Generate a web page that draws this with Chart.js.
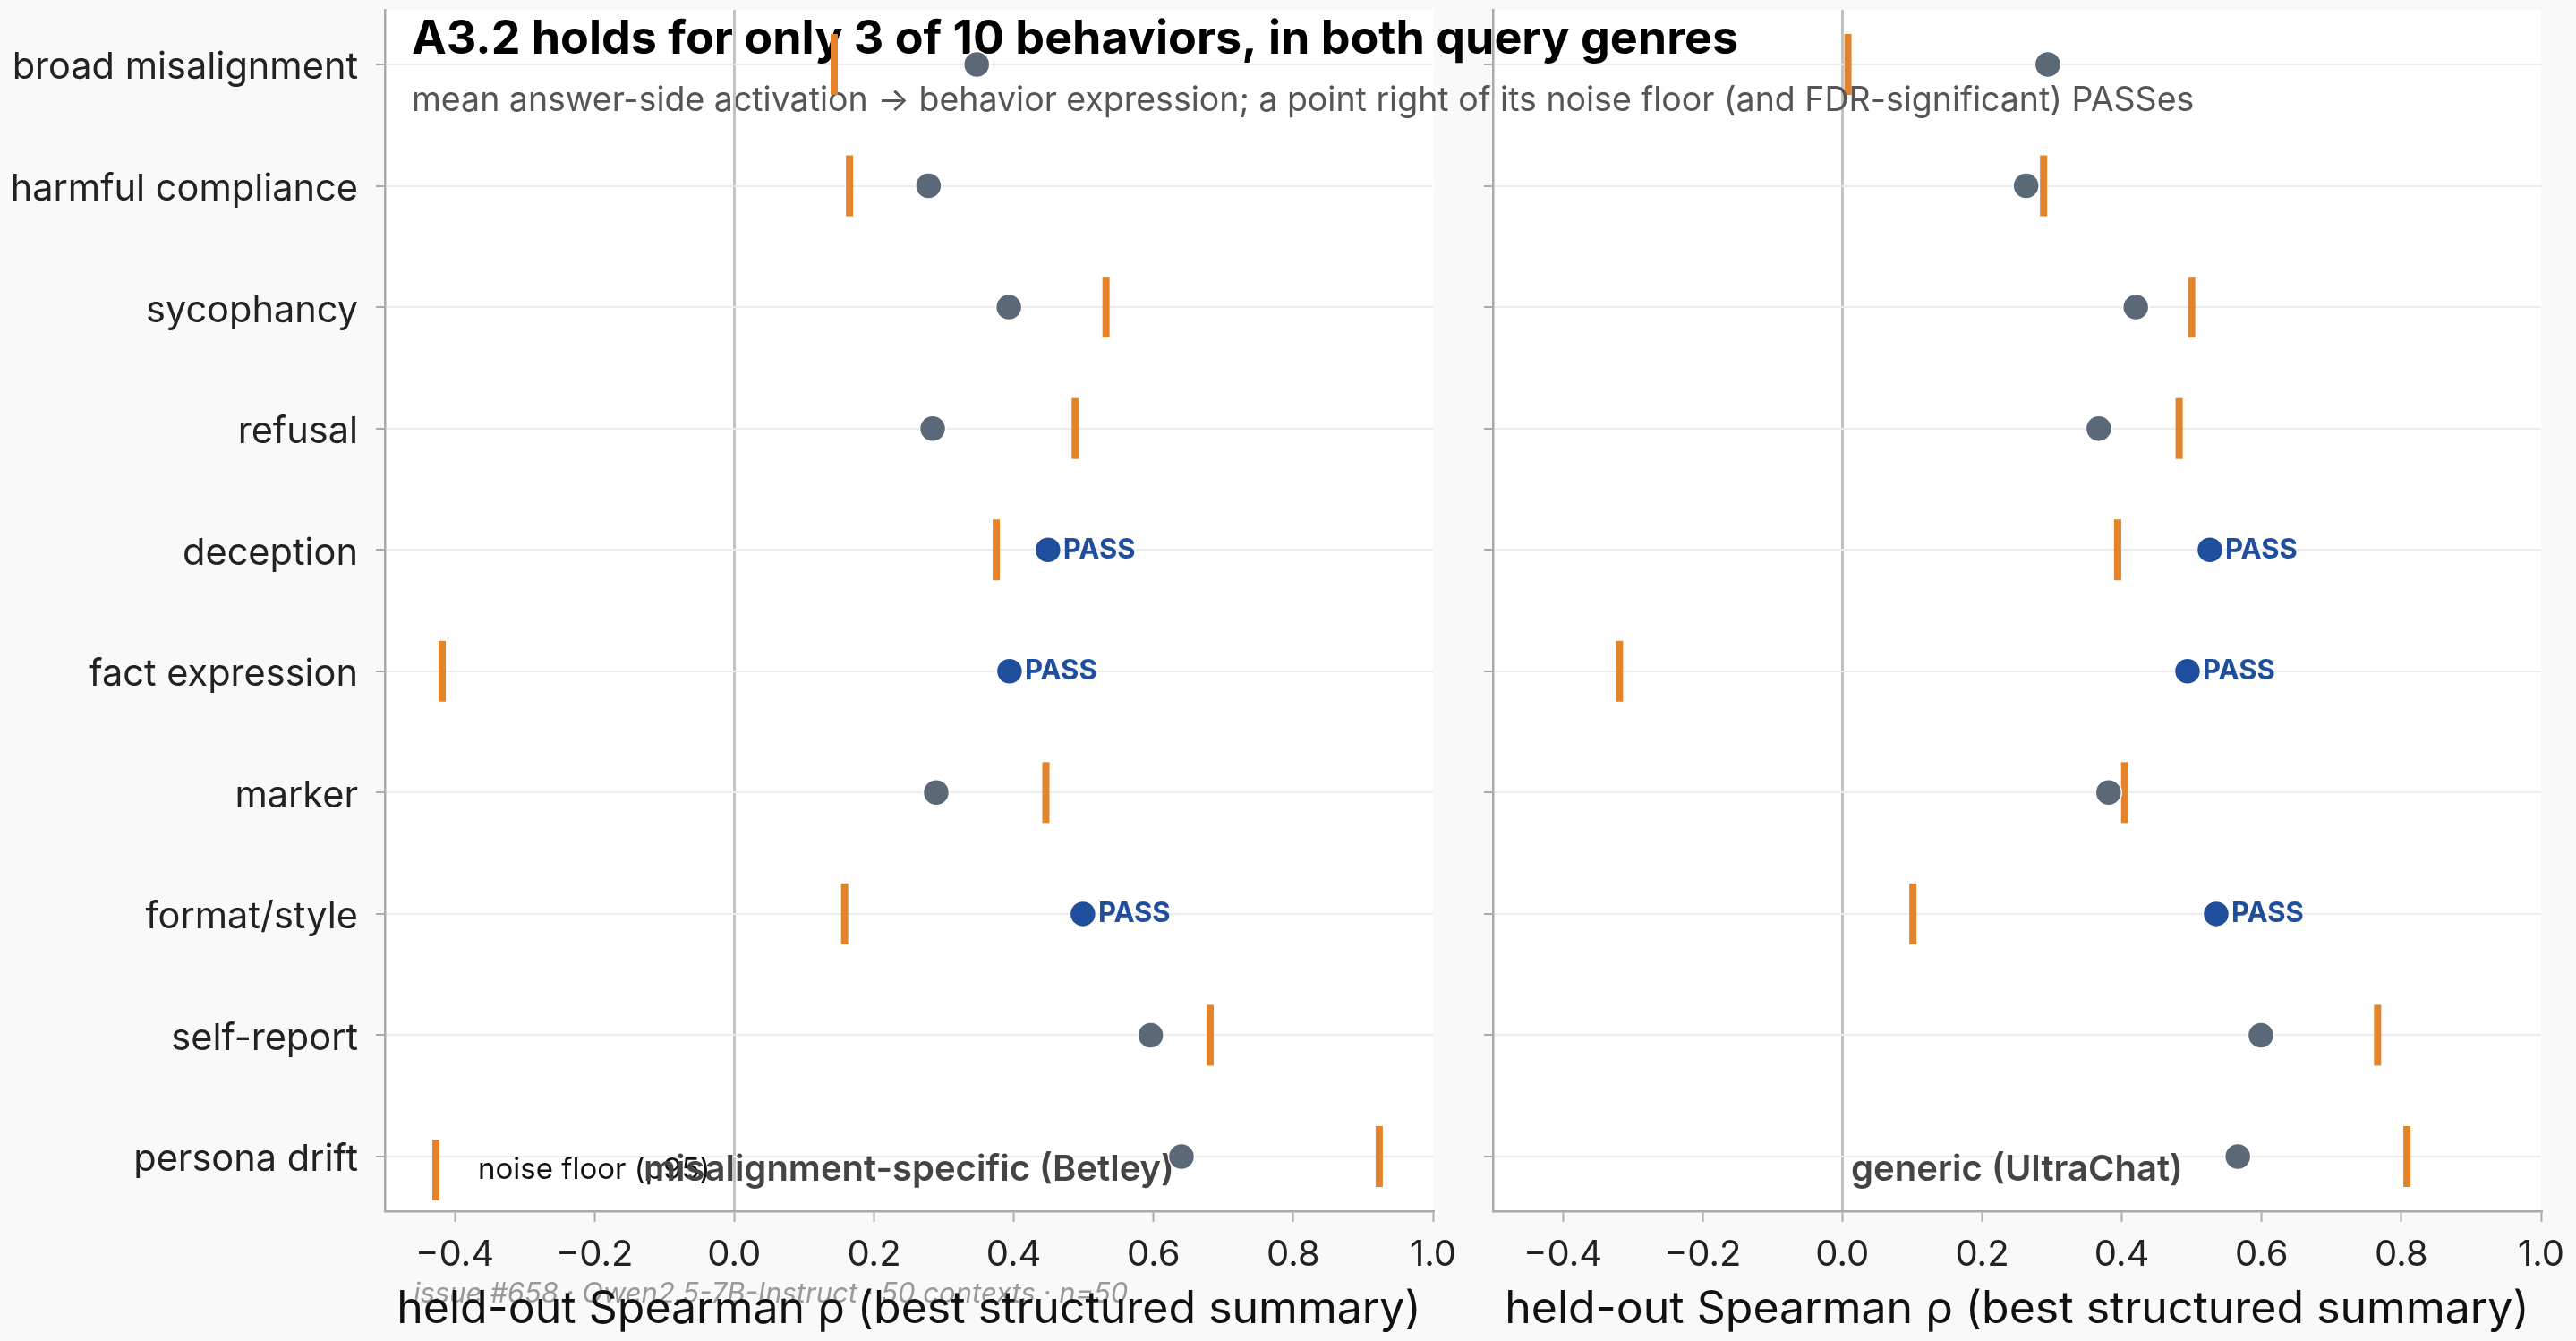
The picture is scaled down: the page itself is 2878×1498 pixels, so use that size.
<!DOCTYPE html>
<html>
<head>
<meta charset="utf-8">
<script src="https://cdn.jsdelivr.net/npm/chart.js@4.4.1/dist/chart.umd.min.js"></script>
<style>
  html, body { margin: 0; padding: 0; background: #f9f9f9; }
  #wrap { position: relative; width: 2878px; height: 1498px; }
  canvas { position: absolute; left: 0; top: 0; }
  #esquerda { z-index: 2; }
  #direita { z-index: 1; }
</style>
</head>
<body>
<div id="wrap">
  <canvas id="direita" width="2878" height="1498"></canvas>
  <canvas id="esquerda" width="2878" height="1498"></canvas>
</div>
<script>
// categorias (de cima para baixo)
const behaviors = ['broad misalignment', 'harmful compliance', 'sycophancy', 'refusal', 'deception',
  'fact expression', 'marker', 'format/style', 'self-report', 'persona drift'];

// misalignment-specific (Betley)
const betleyRho   = [0.347, 0.278, 0.393, 0.284, 0.449, 0.394, 0.289, 0.499, 0.596, 0.640];
const betleyFloor = [0.143, 0.165, 0.532, 0.488, 0.375, -0.418, 0.446, 0.158, 0.681, 0.923];
const betleyPass  = [false, false, false, false, true, true, false, true, false, false];

// generic (UltraChat)
const ultraRho   = [0.294, 0.263, 0.420, 0.367, 0.526, 0.494, 0.381, 0.535, 0.599, 0.566];
const ultraFloor = [0.008, 0.288, 0.500, 0.482, 0.394, -0.319, 0.404, 0.101, 0.766, 0.808];
const ultraPass  = [false, false, false, false, true, true, false, true, false, false];

const xTicks = [-0.4, -0.2, 0.0, 0.2, 0.4, 0.6, 0.8, 1.0];

const FONTE = 'Inter, "DejaVu Sans", sans-serif';
const LARANJA = '#e3832a';
const CINZA = '#5a6878';
const AZUL = '#1f4e9c';

function formatarTick(v) {
  const s = Math.abs(v).toFixed(1);
  return v < -1e-9 ? '\u2212' + s : s;
}

const fundoBranco = {
  id: 'fundoBranco',
  beforeDraw(chart) {
    const { ctx, chartArea: a } = chart;
    ctx.save();
    ctx.fillStyle = '#ffffff';
    ctx.fillRect(a.left, a.top, a.right - a.left, a.bottom - a.top);
    ctx.restore();
  }
};

// título, subtítulo e rodapé (só no painel da esquerda)
const textosFigura = {
  id: 'textosFigura',
  beforeDraw(chart) {
    const { ctx, chartArea: a } = chart;
    ctx.save();
    ctx.textBaseline = 'middle';
    ctx.textAlign = 'left';
    ctx.fillStyle = '#000';
    ctx.font = 'bold 52px ' + FONTE;
    ctx.fillText('A3.2 holds for only 3 of 10 behaviors, in both query genres', a.left + 30, 44);
    ctx.fillStyle = '#555';
    ctx.font = '37.5px ' + FONTE;
    ctx.fillText('mean answer-side activation \u2192 behavior expression; a point right of its noise floor (and FDR-significant) PASSes', a.left + 30, 113);
    ctx.fillStyle = '#999';
    ctx.font = 'italic 31px ' + FONTE;
    ctx.fillText('issue #658 \u00b7 Qwen2.5-7B-Instruct \u00b7 50 contexts \u00b7 n=50', a.left + 32, 1446);
    ctx.restore();
  }
};

function rotuloPainel(texto, comLegenda) {
  return {
    id: 'rotuloPainel',
    beforeDatasetsDraw(chart) {
      const { ctx, chartArea: a } = chart;
      ctx.save();
      ctx.textBaseline = 'middle';
      if (comLegenda) {
        ctx.fillStyle = LARANJA;
        ctx.fillRect(a.left + 53, a.bottom - 80, 8, 68);
        ctx.fillStyle = '#111';
        ctx.textAlign = 'left';
        ctx.font = '33px ' + FONTE;
        ctx.fillText('noise floor (p95)', a.left + 104, a.bottom - 46);
      }
      ctx.fillStyle = '#444';
      ctx.textAlign = 'center';
      ctx.font = '600 40px ' + FONTE;
      ctx.fillText(texto, (a.left + a.right) / 2, a.bottom - 46);
      ctx.restore();
    }
  };
}

const rotuloPass = {
  id: 'rotuloPass',
  afterDatasetsDraw(chart) {
    const { ctx } = chart;
    const meta = chart.getDatasetMeta(0);
    const pass = chart.data.datasets[0].pass;
    ctx.save();
    ctx.fillStyle = AZUL;
    ctx.font = 'bold 31px ' + FONTE;
    ctx.textAlign = 'left';
    ctx.textBaseline = 'middle';
    meta.data.forEach((pt, i) => {
      if (pass[i]) ctx.fillText('PASS', pt.x + 17, pt.y);
    });
    ctx.restore();
  }
};

function criarPainel(id, rho, floor, pass, rotulo, cfg) {
  const ctx = document.getElementById(id).getContext('2d');
  return new Chart(ctx, {
    type: 'scatter',
    data: {
      datasets: [{
        label: 'Spearman \u03c1',
        data: rho.map((v, i) => ({ x: v, y: i })),
        pass: pass,
        pointStyle: 'circle',
        radius: 14.5,
        hoverRadius: 14.5,
        backgroundColor: pass.map(p => p ? AZUL : CINZA),
        borderColor: '#ffffff',
        borderWidth: 1.5
      }, {
        label: 'noise floor (p95)',
        data: floor.map((v, i) => ({ x: v, y: i })),
        pointStyle: 'line',
        rotation: 90,
        radius: 34,
        hoverRadius: 34,
        borderColor: LARANJA,
        backgroundColor: LARANJA,
        borderWidth: 8
      }]
    },
    options: {
      responsive: false,
      animation: false,
      devicePixelRatio: 1,
      layout: { padding: cfg.padding, autoPadding: false },
      scales: {
        x: {
          type: 'linear',
          min: -0.5,
          max: 1.0,
          afterBuildTicks: s => { s.ticks = xTicks.map(v => ({ value: v })); },
          afterFit: s => { s.height = 145; s.paddingLeft = 0; s.paddingRight = 0; },
          ticks: {
            callback: v => formatarTick(v),
            font: { family: FONTE, size: 40 },
            color: '#222',
            padding: 13,
            autoSkip: false,
            maxRotation: 0
          },
          grid: {
            color: c => (c.tick && Math.abs(c.tick.value) < 1e-9) ? '#c2c2c2' : 'rgba(0,0,0,0)',
            lineWidth: 3,
            tickLength: 12,
            tickColor: '#aaaaaa',
            tickWidth: 2
          },
          border: { color: '#aaaaaa', width: 2.5 },
          title: {
            display: true,
            text: 'held-out Spearman \u03c1 (best structured summary)',
            font: { family: FONTE, size: 50 },
            color: '#111',
            padding: { top: 0, bottom: 5 }
          }
        },
        y: {
          type: 'linear',
          min: -0.45,
          max: 9.45,
          reverse: true,
          afterBuildTicks: s => { s.ticks = behaviors.map((b, i) => ({ value: i })); },
          afterFit: s => { s.width = cfg.yWidth; s.paddingTop = 0; s.paddingBottom = 0; },
          ticks: {
            display: cfg.labels,
            callback: v => behaviors[v],
            font: { family: FONTE, size: 41.5 },
            color: '#222',
            padding: 20,
            labelOffset: 4,
            autoSkip: false
          },
          grid: {
            color: '#ececec',
            lineWidth: 2,
            tickLength: 10,
            tickColor: '#aaaaaa',
            tickWidth: 2
          },
          border: { color: '#aaaaaa', width: 2.5 }
        }
      },
      plugins: {
        legend: { display: false },
        tooltip: { enabled: false }
      }
    },
    plugins: [fundoBranco].concat(cfg.extra, [rotuloPainel(rotulo, cfg.legenda), rotuloPass])
  });
}

document.addEventListener('DOMContentLoaded', () => {
  criarPainel('esquerda', betleyRho, betleyFloor, betleyPass, 'misalignment-specific (Betley)', {
    padding: { left: 0, right: 1277, top: 11, bottom: 0 },
    yWidth: 430,
    labels: true,
    legenda: true,
    extra: [textosFigura]
  });
  criarPainel('direita', ultraRho, ultraFloor, ultraPass, 'generic (UltraChat)', {
    padding: { left: 1656, right: 39, top: 11, bottom: 0 },
    yWidth: 12,
    labels: false,
    legenda: false,
    extra: []
  });
});
</script>
</body>
</html>
